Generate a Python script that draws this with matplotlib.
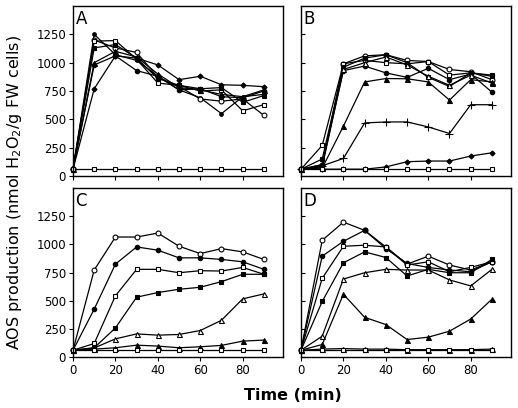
import matplotlib
matplotlib.use('Agg')
import matplotlib.pyplot as plt

# time points (min)
time = [0, 10, 20, 30, 40, 50, 60, 70, 80, 90]

# Panel A
a_diamond = [60, 770, 1060, 1040, 980, 850, 880, 805, 800, 788]
a_dot = [60, 1250, 1070, 1020, 880, 760, 690, 550, 700, 720]
a_ocircle = [60, 1200, 1130, 1090, 870, 790, 680, 660, 680, 535]
a_osquare = [60, 1190, 1195, 1030, 820, 800, 750, 760, 575, 630]
a_fsquare = [60, 1130, 1160, 1040, 860, 800, 770, 780, 650, 710]
a_fcircle = [60, 980, 1060, 930, 880, 760, 770, 700, 690, 750]
a_ftri = [60, 1000, 1100, 1050, 900, 780, 760, 720, 700, 760]
a_base = [60, 60, 60, 60, 60, 60, 60, 60, 60, 60]

# Panel B
b_ocircle = [60, 100, 990, 1060, 1070, 1020, 1010, 940, 920, 850]
b_osquare = [60, 270, 990, 1020, 1000, 990, 1010, 890, 910, 890]
b_fsquare = [60, 150, 960, 1040, 1070, 1000, 870, 790, 910, 880]
b_fcircle = [60, 100, 930, 970, 910, 870, 950, 850, 900, 740]
b_otri = [60, 80, 940, 1000, 1050, 980, 880, 800, 890, 820]
b_ftri = [60, 70, 440, 830, 860, 858, 830, 670, 850, 830]
b_cross = [60, 90, 155, 468, 477, 477, 433, 375, 629, 629]
b_diamond = [60, 60, 60, 60, 80, 126, 132, 132, 176, 205]
b_base = [60, 60, 60, 60, 60, 60, 60, 60, 60, 60]

# Panel C
c_ocircle = [60, 772, 1065, 1065, 1100, 983, 918, 962, 933, 866]
c_fcircle = [60, 425, 824, 977, 948, 880, 880, 866, 845, 778]
c_osquare = [60, 120, 543, 778, 778, 748, 766, 763, 795, 734]
c_fsquare = [60, 82, 258, 531, 572, 601, 619, 669, 734, 734]
c_otri = [60, 80, 161, 205, 194, 200, 235, 326, 516, 560]
c_ftri = [60, 70, 82, 105, 97, 82, 91, 103, 141, 150]
c_base = [60, 60, 60, 60, 60, 60, 60, 60, 60, 60]

# Panel D
d_ocircle = [60, 1036, 1197, 1124, 977, 824, 895, 816, 772, 845]
d_fcircle = [60, 895, 1027, 1124, 962, 830, 795, 772, 757, 845]
d_osquare = [60, 698, 983, 992, 977, 816, 845, 757, 795, 845]
d_fsquare = [60, 493, 836, 933, 883, 719, 778, 748, 748, 866]
d_otri = [60, 185, 692, 748, 778, 772, 772, 684, 631, 778]
d_ftri = [60, 111, 557, 352, 288, 155, 176, 229, 337, 513]
d_otri_low = [60, 70, 75, 70, 70, 65, 65, 65, 65, 70]
d_base = [60, 60, 60, 60, 60, 60, 60, 60, 60, 60]

yticks = [0, 250, 500, 750, 1000, 1250]
xticks = [0, 20, 40, 60, 80]

# marker styles: (marker, filled, size)
STY = {
    'dot': ('o', True, 2.6),
    'fcircle': ('o', True, 3.2),
    'ocircle': ('o', False, 3.5),
    'fsquare': ('s', True, 3.2),
    'osquare': ('s', False, 3.5),
    'ftri': ('^', True, 3.6),
    'otri': ('^', False, 3.6),
    'diamond': ('D', True, 2.6),
    'cross': ('+', True, 5.5),
}

panels = {
    'A': [(a_diamond, 'diamond'), (a_dot, 'dot'), (a_ocircle, 'ocircle'),
          (a_osquare, 'osquare'), (a_fsquare, 'fsquare'), (a_fcircle, 'fcircle'),
          (a_ftri, 'ftri'), (a_base, 'osquare')],
    'B': [(b_ocircle, 'ocircle'), (b_osquare, 'osquare'), (b_fsquare, 'fsquare'),
          (b_fcircle, 'fcircle'), (b_otri, 'otri'), (b_ftri, 'ftri'),
          (b_cross, 'cross'), (b_diamond, 'diamond'), (b_base, 'osquare')],
    'C': [(c_ocircle, 'ocircle'), (c_fcircle, 'fcircle'), (c_osquare, 'osquare'),
          (c_fsquare, 'fsquare'), (c_otri, 'otri'), (c_ftri, 'ftri'),
          (c_base, 'osquare')],
    'D': [(d_ocircle, 'ocircle'), (d_fcircle, 'fcircle'), (d_osquare, 'osquare'),
          (d_fsquare, 'fsquare'), (d_otri, 'otri'), (d_ftri, 'ftri'),
          (d_otri_low, 'otri'), (d_base, 'osquare')],
}

W, H = 518, 408
fig = plt.figure(figsize=(W / 100, H / 100), dpi=100)

boxes = {
    'A': (73, 6, 283, 176),
    'B': (301, 6, 511, 176),
    'C': (73, 188, 283, 357),
    'D': (301, 188, 511, 357),
}

for name, series in panels.items():
    x0, y0, x1, y1 = boxes[name]
    ax = fig.add_axes([x0 / W, 1 - y1 / H, (x1 - x0) / W, (y1 - y0) / H])
    for vals, key in series:
        m, filled, ms = STY[key]
        ax.plot(time, vals, color='black', linewidth=0.9, marker=m,
                markersize=ms, markerfacecolor='black' if filled else 'white',
                markeredgecolor='black', markeredgewidth=0.8, clip_on=False)
    ax.set_xlim(0, 99)
    ax.set_ylim(0, 1500)
    ax.set_xticks(xticks)
    ax.set_yticks(yticks)
    for sp in ax.spines.values():
        sp.set_linewidth(1.0)
    left = name in ('A', 'C')
    bottom = name in ('C', 'D')
    ax.tick_params(axis='y', direction='out' if left else 'in', length=3,
                   labelleft=left, labelsize=8.5, pad=2)
    ax.tick_params(axis='x', direction='out', length=3,
                   labelbottom=bottom, labelsize=8.5, pad=2)
    ax.text(0.012, 0.975, name, transform=ax.transAxes, fontsize=12,
            ha='left', va='top')

fig.text(15 / W, 1 - 192 / H, r'AOS production (nmol H$_2$O$_2$/g FW cells)',
         rotation=90, ha='center', va='center', fontsize=11.5)
fig.text(293 / W, 1 - 395 / H, 'Time (min)', ha='center', va='center',
         fontsize=11.5, weight='bold')

fig.savefig('out.png', dpi=100)
